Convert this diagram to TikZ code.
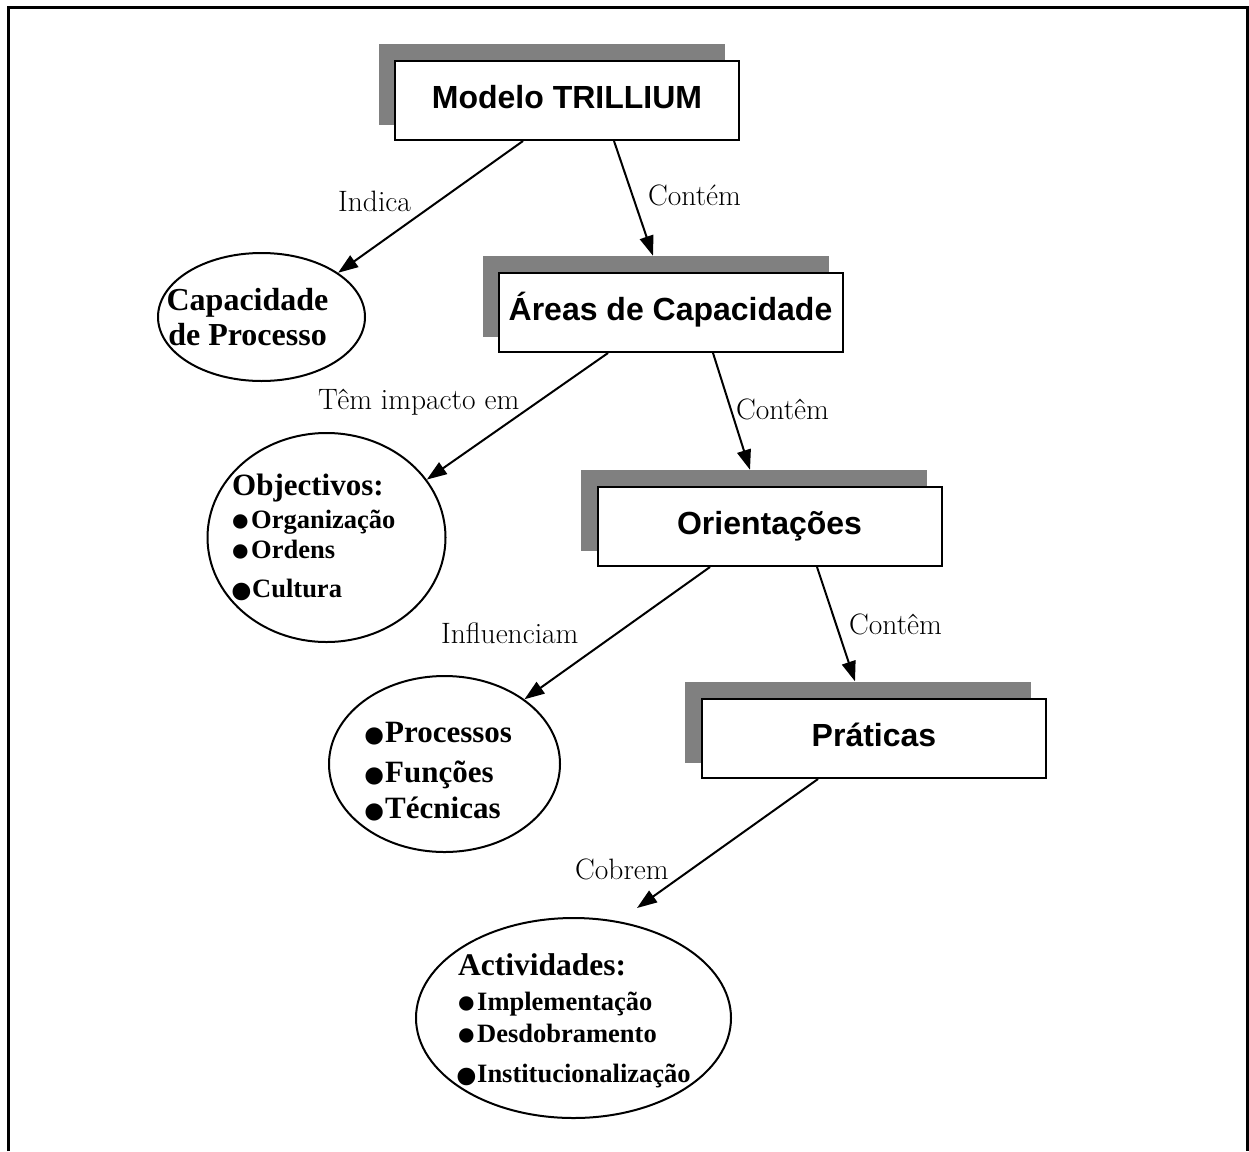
\documentclass[tikz,border=0pt]{standalone}
\usepackage{fontspec}
\usepackage{graphicx}
\usetikzlibrary{shapes.geometric,arrows.meta}
\newfontfamily\sansb{Liberation Sans}
\newfontfamily\serifb{Liberation Serif}
\definecolor{shadowgray}{HTML}{808080}
\newcommand\smbul{\makebox[18pt][l]{\hspace*{-2pt}\raisebox{-11.8pt}[0pt][0pt]{\scalebox{2.0}{•}}}}
\newcommand\bgbul{\makebox[18pt][l]{\hspace*{-4pt}\raisebox{-16pt}[0pt][0pt]{\scalebox{2.45}{•}}}}
\newcommand\mdbul{\makebox[18pt][l]{\hspace*{-4pt}\raisebox{-15.5pt}[0pt][0pt]{\scalebox{2.05}{•}}}}
\begin{document}
\begin{tikzpicture}[x=1pt,y=-1pt,
  boxnode/.style={draw, line width=2pt, fill=white, minimum width=344pt, minimum height=79pt,
    inner sep=0pt, font=\fontsize{32}{36}\sansb\bfseries, text height=23pt, text depth=8pt},
  shadownode/.style={fill=shadowgray, minimum width=346pt, minimum height=81pt, inner sep=0pt},
  ellnode/.style={draw, ellipse, line width=2pt, inner sep=0pt},
  labnode/.style={font=\fontsize{29.5}{32}\selectfont, anchor=base west, inner sep=0pt},
  titletext/.style={font=\fontsize{32}{35}\serifb\bfseries, inner sep=0pt},
  itemtext/.style={font=\fontsize{26.5}{30}\serifb\bfseries, inner sep=0pt, anchor=base west},
  arr/.style={line width=2pt, -{Triangle[length=20pt,width=14pt]}}
]
\useasboundingbox (0,0) rectangle (1249,1151);
% frame
\draw[line width=3pt] (8.5,1151) -- (8.5,7) -- (1247,7) -- (1247,1151);

% boxes with shadows
\node[shadownode] (s1) at (551.5,84.5) {};
\node[boxnode] (b1) at (567,100.5) {Modelo TRILLIUM};
\node[shadownode] (s2) at (655.5,296.5) {};
\node[boxnode] (b2) at (670.5,312.5) {Áreas de Capacidade};
\node[shadownode] (s3) at (753.5,510.5) {};
\node[boxnode] (b3) at (769.5,526.5) {Orientações};
\node[shadownode] (s4) at (857.5,722) {};
\node[boxnode] (b4) at (874,738.5) {Práticas};

% ellipses
\node[ellnode, minimum width=207pt, minimum height=128pt] (e1) at (261.5,317) {};
\node[ellnode, minimum width=238pt, minimum height=209pt] (e2) at (326.5,537.5) {};
\node[ellnode, minimum width=231pt, minimum height=176pt] (e3) at (444.5,764) {};
\node[ellnode, minimum width=315pt, minimum height=200pt] (e4) at (573.5,1018) {};

% ellipse texts
\node[titletext, anchor=base] (t1a) at (247.5,310) {Capacidade};
\node[titletext, anchor=base] (t1b) at (247.5,345) {de Processo};

\node[titletext, anchor=base west, font=\fontsize{31}{35}\serifb\bfseries] (t2a) at (232,495) {Objectivos:};
\node[itemtext] (t2b) at (233,528) {\smbul Organização};
\node[itemtext] (t2c) at (233,558) {\smbul Ordens};
\node[itemtext] (t2d) at (234,597) {\bgbul Cultura};

\node[itemtext, font=\fontsize{31}{35}\serifb\bfseries] (t3a) at (367,742) {\mdbul Processos};
\node[itemtext, font=\fontsize{31}{35}\serifb\bfseries] (t3b) at (367,782) {\mdbul Funções};
\node[itemtext, font=\fontsize{31}{35}\serifb\bfseries] (t3c) at (367,818) {\mdbul Técnicas};

\node[titletext, anchor=base west, font=\fontsize{31.5}{35}\serifb\bfseries] (t4a) at (458,975) {Actividades:};
\node[itemtext] (t4b) at (459,1010) {\smbul Implementação};
\node[itemtext] (t4c) at (459,1042) {\smbul Desdobramento};
\node[itemtext] (t4d) at (459,1082) {\bgbul Institucionalização};

% connectors
\draw[arr] ([xshift=-44pt]b1.south) -- (e1.30);
\draw[arr] ([xshift=47pt]b1.south) -- ([xshift=-2.5pt]s2.north);
\draw[arr] ([xshift=-62.5pt]b2.south) -- (e2.30);
\draw[arr] ([xshift=42.5pt]b2.south) -- ([xshift=-3.5pt]s3.north);
\draw[arr] ([xshift=-59.5pt]b3.south) -- (e3.39);
\draw[arr] ([xshift=47.5pt]b3.south) -- ([xshift=-2.5pt]s4.north);
\draw[arr] ([xshift=-56pt]b4.south) -- ([xshift=63.5pt,yshift=9pt]e4.north);

% connector labels
\node[labnode] (l1) at (338,211) {Indica};
\node[labnode] (l2) at (648,205) {Contém};
\node[labnode] (l3) at (318,409) {Têm impacto em};
\node[labnode] (l4) at (736,419) {Contêm};
\node[labnode] (l5) at (441,643) {Influenciam};
\node[labnode] (l6) at (849,634) {Contêm};
\node[labnode] (l7) at (575,879) {Cobrem};
\end{tikzpicture}
\end{document}
